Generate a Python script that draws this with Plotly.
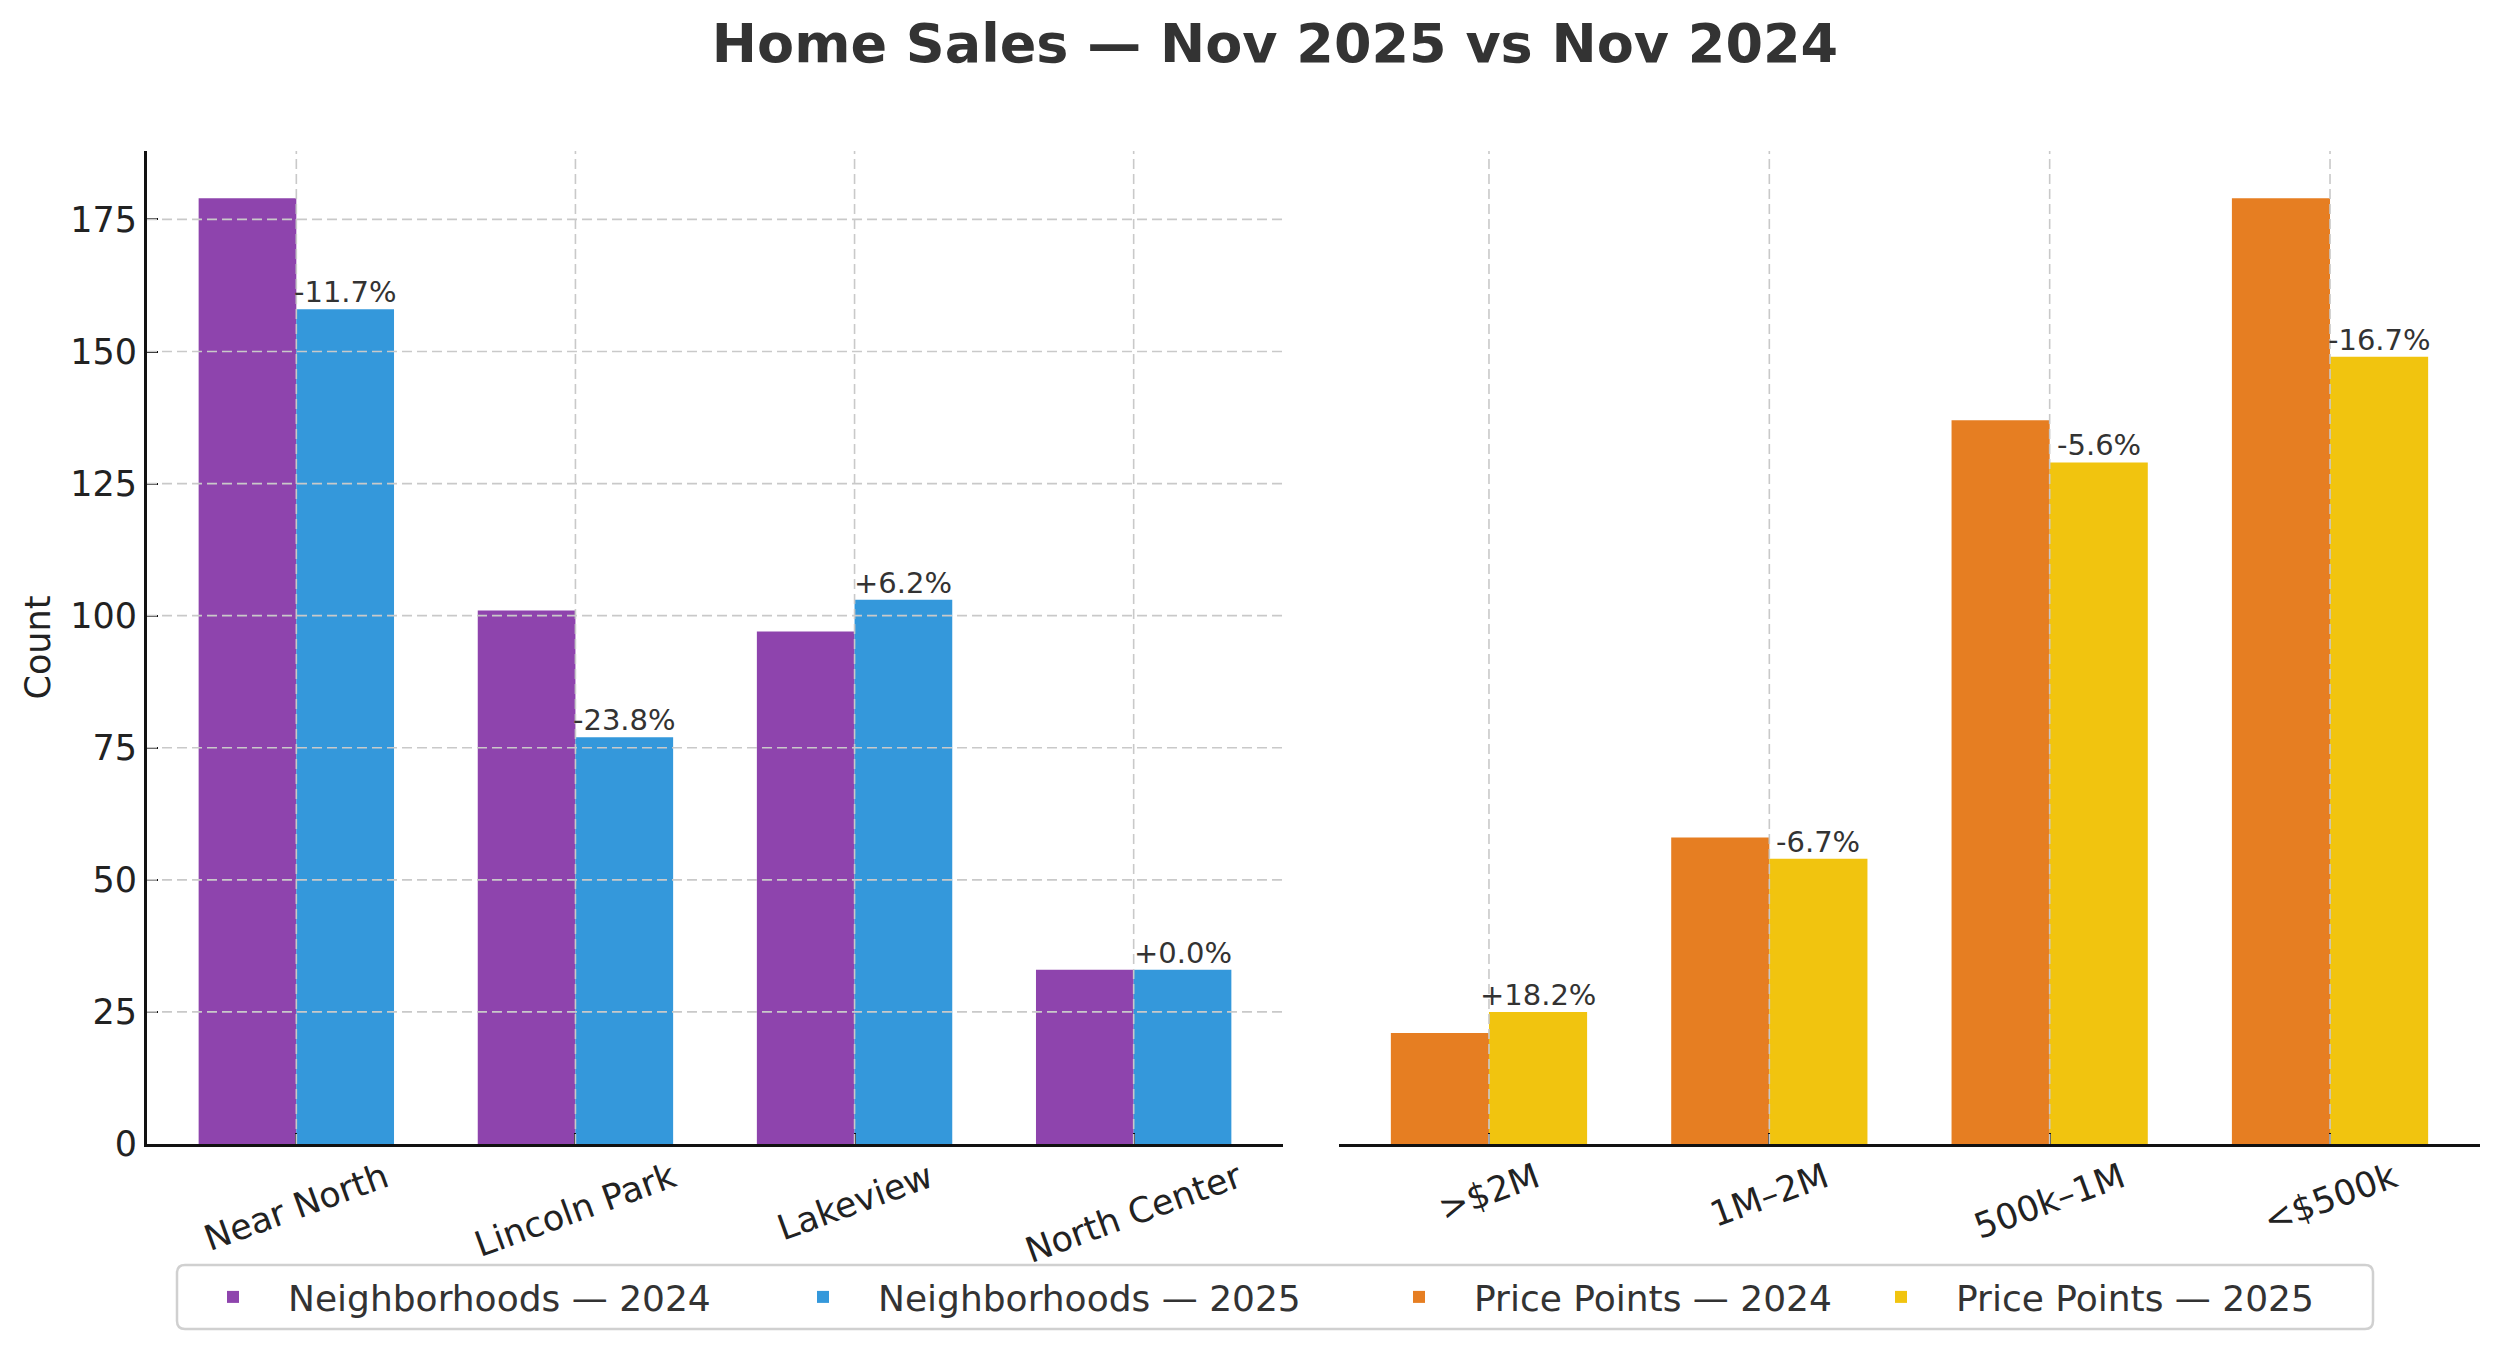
import plotly.graph_objects as go

# ---------------- data ----------------
neighborhoods = ["Near North", "Lincoln Park", "Lakeview", "North Center"]
nb_2024 = [179, 101, 97, 33]
nb_2025 = [158, 77, 103, 33]
nb_change_labels = ["-11.7%", "-23.8%", "+6.2%", "+0.0%"]

price_points = [">$2M", "1M–2M", "500k–1M", "<$500k"]
pp_2024 = [21, 58, 137, 179]
pp_2025 = [25, 54, 129, 149]
pp_change_labels = ["+18.2%", "-6.7%", "-5.6%", "-16.7%"]

y_ticks = [0, 25, 50, 75, 100, 125, 150, 175]

title_text = "Home Sales — Nov 2025 vs Nov 2024"
y_title = "Count"

# ---------------- style ----------------
PAGE_MARGIN = 8            # default body margin of the html page
W, H = 2500 - 2 * PAGE_MARGIN, 1354 - 2 * PAGE_MARGIN
FONT = "DejaVu Sans"
C_PURPLE, C_BLUE, C_ORANGE, C_YELLOW = "#8E44AD", "#3498DB", "#E67E22", "#F1C40F"
GRID = "#c9c9c9"
BAR_W = 0.35
Y_MAX = max(max(nb_2024), max(nb_2025), max(pp_2024), max(pp_2025)) * 1.05
X_RANGE = [-0.535, 3.535]


def px_x(p):
    return (p - PAGE_MARGIN) / W


def px_y(p):
    return 1 - (p - PAGE_MARGIN) / H


fig = go.Figure()

fig.add_trace(go.Bar(x=neighborhoods, y=nb_2024, name="Neighborhoods — 2024",
                     marker=dict(color=C_PURPLE, line=dict(width=0)),
                     width=BAR_W, offset=-BAR_W, xaxis="x", yaxis="y", legend="legend"))
fig.add_trace(go.Bar(x=neighborhoods, y=nb_2025, name="Neighborhoods — 2025",
                     marker=dict(color=C_BLUE, line=dict(width=0)),
                     width=BAR_W, offset=0, xaxis="x", yaxis="y", legend="legend"))
fig.add_trace(go.Bar(x=price_points, y=pp_2024, name="Price Points — 2024",
                     marker=dict(color=C_ORANGE, line=dict(width=0)),
                     width=BAR_W, offset=-BAR_W, xaxis="x2", yaxis="y2", legend="legend2"))
fig.add_trace(go.Bar(x=price_points, y=pp_2025, name="Price Points — 2025",
                     marker=dict(color=C_YELLOW, line=dict(width=0)),
                     width=BAR_W, offset=0, xaxis="x2", yaxis="y2", legend="legend2"))

y_dom = [px_y(1144), px_y(151)]

common_x = dict(type="category", range=X_RANGE, showgrid=False, zeroline=False,
                showline=True, linecolor="#111", linewidth=3,
                ticks="inside", ticklen=11, tickwidth=2, tickcolor="#111",
                showticklabels=False, fixedrange=True, automargin=False)

LEG_Y = px_y(1297)
ITEM_W = 100
legend_common = dict(orientation="h", yanchor="middle", y=LEG_Y, xanchor="left",
                     font=dict(family=FONT, size=36, color="#333"),
                     borderwidth=0, bgcolor="rgba(0,0,0,0)", itemwidth=ITEM_W,
                     entrywidthmode="pixels", traceorder="normal")

fig.update_layout(
    width=W, height=H,
    margin=dict(l=0, r=0, t=0, b=0, autoexpand=False),
    paper_bgcolor="white", plot_bgcolor="white",
    barmode="overlay",
    font=dict(family=FONT, color="#222"),
    title=dict(text="<b>" + title_text + "</b>", x=px_x(1275), xanchor="center",
               y=px_y(43), yanchor="middle",
               font=dict(family=FONT, size=54, color="#333")),
    xaxis=dict(domain=[px_x(147), px_x(1283)], anchor="y", **common_x),
    xaxis2=dict(domain=[px_x(1339), px_x(2480)], anchor="y2", **common_x),
    yaxis=dict(domain=y_dom, anchor="x", range=[0, Y_MAX], tickvals=y_ticks,
               showgrid=False, zeroline=False, showline=True, linecolor="#111",
               linewidth=3, ticks="inside", ticklen=11, tickwidth=2, tickcolor="#111",
               tickfont=dict(family=FONT, size=35, color="#222"), fixedrange=True,
               automargin=False),
    yaxis2=dict(domain=y_dom, anchor="x2", range=[0, Y_MAX], matches="y",
                showgrid=False, zeroline=False, showline=False, ticks="",
                showticklabels=False, fixedrange=True, automargin=False),
    legend=dict(x=px_x(178), entrywidth=475, **legend_common),
    legend2=dict(x=px_x(1364), entrywidth=367, **legend_common),
    showlegend=True,
)

shapes = []
# horizontal grid (left panel only)
for v in y_ticks[1:]:
    shapes.append(dict(type="line", xref="x domain", yref="y", x0=0, x1=1, y0=v, y1=v,
                       line=dict(color=GRID, width=1.6, dash="10px,5px"), layer="above"))
# vertical grid at category centres, both panels
for xr, yr, cats in (("x", "y domain", neighborhoods), ("x2", "y2 domain", price_points)):
    for i, _ in enumerate(cats):
        shapes.append(dict(type="line", xref=xr, yref=yr, x0=i, x1=i, y0=0, y1=1,
                           line=dict(color=GRID, width=1.6, dash="10px,5px"), layer="above"))

# rounded legend frame
bx0, bx1, by0, by1 = px_x(177), px_x(2373), px_y(1329), px_y(1265)
rx, ry = 8 / W, 8 / H
frame = (f"M {bx0 + rx},{by0} L {bx1 - rx},{by0} Q {bx1},{by0} {bx1},{by0 + ry} "
         f"L {bx1},{by1 - ry} Q {bx1},{by1} {bx1 - rx},{by1} L {bx0 + rx},{by1} "
         f"Q {bx0},{by1} {bx0},{by1 - ry} L {bx0},{by0 + ry} Q {bx0},{by0} {bx0 + rx},{by0} Z")
shapes.append(dict(type="path", xref="paper", yref="paper", path=frame,
                   line=dict(color="#d0d0d0", width=2.5), fillcolor="white", layer="below"))
fig.update_layout(shapes=shapes)

ann = []
# change labels above the 2025 bars
for xr, yr, cats, vals, labs in (("x", "y", neighborhoods, nb_2025, nb_change_labels),
                                 ("x2", "y2", price_points, pp_2025, pp_change_labels)):
    for i, (v, t) in enumerate(zip(vals, labs)):
        ann.append(dict(text=t, xref=xr, yref=yr, x=i + BAR_W / 2, y=v,
                        xanchor="center", yanchor="bottom", yshift=-2, showarrow=False,
                        font=dict(family=FONT, size=29, color="#333")))
# rotated category labels
for xr, cats in (("x", neighborhoods), ("x2", price_points)):
    for i, c in enumerate(cats):
        ann.append(dict(text=c, xref=xr, yref="paper", x=i, y=px_y(1153),
                        xanchor="center", yanchor="top", textangle=-20, showarrow=False,
                        font=dict(family=FONT, size=35, color="#222")))
# y-axis title
ann.append(dict(text=y_title, xref="paper", yref="paper", x=px_x(38), y=(y_dom[0] + y_dom[1]) / 2,
                xanchor="center", yanchor="middle", textangle=-90, showarrow=False,
                font=dict(family=FONT, size=35, color="#222")))
fig.update_layout(annotations=ann)

fig.write_html("out.html")
